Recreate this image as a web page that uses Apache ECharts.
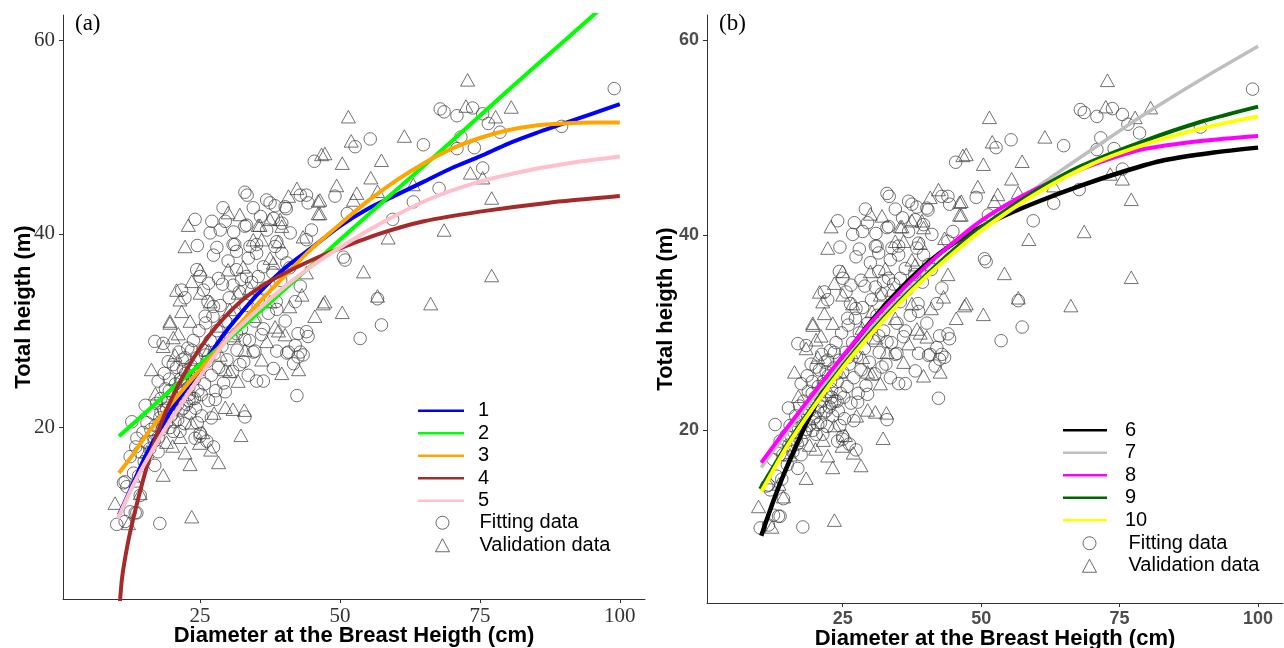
<!DOCTYPE html>
<html><head><meta charset="utf-8">
<script src="https://cdn.jsdelivr.net/npm/echarts@6/dist/echarts.min.js"></script>
<style>html,body{margin:0;padding:0;background:#fff}#c{width:1284px;height:648px}</style>
</head><body><div id="c"></div>
<script>
// ---------- data ----------
const xTicks = [25, 50, 75, 100];
const yTicks = [20, 40, 60];

const fitting = [
[45.4,47.5],[33.0,44.3],[33.4,44.0],[36.9,43.5],[38.4,42.9],[40.4,42.6],[44.0,44.0],[44.3,43.2],[34.5,42.7],[29.1,42.7],
[24.1,41.5],[27.1,41.3],[28.6,40.4],[26.8,40.1],[33.0,40.8],[36.9,40.4],[41.1,40.1],[44.9,40.4],[27.4,37.8],[30.9,38.9],
[31.5,38.2],[33.9,38.7],[35.1,38.0],[38.7,39.2],[39.6,38.0],[36.3,36.6],[40.5,37.0],[24.4,36.3],[25.0,35.6],[26.5,34.9],
[28.3,35.4],[31.5,36.3],[33.3,35.6],[21.7,34.2],[25.6,34.2],[22.3,33.4],[42.9,34.6],[38.7,32.2],[27.4,32.5],[25.9,31.5],
[99.0,55.0],[67.9,52.9],[68.6,52.6],[70.9,52.2],[73.7,53.0],[75.5,52.4],[76.5,51.4],[78.6,50.5],[71.6,50.0],[70.9,48.8],
[74.0,48.9],[64.9,49.2],[89.6,51.1],[55.4,49.8],[52.7,49.0],[75.5,46.8],[67.7,44.7],[49.1,43.9],[63.1,43.3],[59.4,41.5],
[50.6,37.6],[50.9,37.3],[56.7,33.3],[57.4,30.6],[51.3,42.1],[53.6,29.2],
[44.0,29.9],[42.0,28.5],[42.5,27.3],[43.4,27.5],[41.7,26.6],[42.3,23.3],[36.3,30.2],[34.8,27.9],[38.7,27.9],[40.5,27.7],
[38.1,26.1],[35.1,24.8],[36.3,24.8],[33.6,25.4],[33.0,29.1],[31.5,29.7],[29.5,23.7],[27.7,22.9],[33.0,21.1],[25.0,19.4],
[24.1,18.9],[27.4,18.0],[17.8,10.1],[16.9,28.9],[18.4,28.7],[10.1,10.0],[11.6,10.3],[13.7,11.2],[11.3,14.3],[11.9,13.9],
[13.7,18.9],[12.8,20.6],[15.2,22.3],[17.5,24.8],[20.2,26.5],[22.3,27.2],[23.5,28.0],
[37.5,43.2],[40.2,42.8],[42.9,44.0],[29.5,41.3],[33.3,40.9],[38.1,41.6],[39.6,41.1],[44.0,39.4],[31.2,38.9],[35.1,38.9],
[38.4,38.7],[33.6,37.5],[30.9,34.7],[32.4,35.3],[35.4,35.6],[42.5,29.7],[44.3,29.4],[34.5,27.8],[40.8,27.8],[42.9,27.8],
[32.1,26.5],[11.6,14.4],[13.1,15.3],[12.5,11.3],[13.4,11.2],[14.3,13.0],[16.9,16.1],[17.5,17.5],[16.6,19.1],[18.4,20.1],
[21.4,19.6],[25.0,19.1],[26.2,18.6],
[12.5,17.0],[13.5,18.0],[14.0,15.0],[14.2,17.5],[14.8,19.5],[15.0,16.5],[15.3,18.5],[15.5,20.5],[16.0,17.8],[16.2,19.8],
[16.5,21.5],[16.8,18.6],[17.0,20.2],[17.2,22.5],[17.5,19.0],[17.8,21.0],[18.0,23.0],[18.2,19.8],[18.5,21.8],[18.8,24.0],
[19.0,20.5],[19.2,22.6],[19.5,25.0],[19.8,21.2],[20.0,23.4],[20.2,19.6],[20.5,22.0],[20.6,24.5],[20.8,26.2],[21.0,20.8],
[21.2,23.0],[21.5,25.0],[21.6,21.8],[21.8,27.0],[22.0,23.6],[22.2,20.4],[22.4,25.6],[22.6,22.4],[22.8,28.2],[23.0,24.2],
[23.2,21.5],[23.4,26.4],[23.6,23.0],[23.8,29.0],[24.0,25.0],[24.2,22.0],[24.4,27.2],[24.6,23.8],[24.8,30.0],[25.0,26.0],
[25.3,21.2],[25.5,28.0],[25.8,24.5],[26.0,30.8],[26.2,26.8],[26.5,22.8],[26.8,29.0],[27.0,25.4],[27.3,31.5],[27.5,27.6],
[27.8,23.8],[28.0,30.0],[28.3,26.2],[28.6,32.6],[28.9,28.4],[29.2,24.6],[29.5,31.0],[29.8,27.0],[30.2,33.4],[30.5,29.2],
[30.8,25.8],[31.2,31.8],[31.6,28.0],[32.0,34.0],[32.4,30.2],[32.8,26.8],[33.2,32.6],[33.8,29.0],[34.2,35.0],[34.8,31.0],
[35.4,33.2],[36.0,29.6],[36.6,34.4],[37.2,31.8],[38.0,36.0],[38.6,33.0],[39.4,35.2],[40.2,31.0],[41.0,36.5],[42.0,33.0],
[19.5,23.8],[20.5,20.6],[21.0,24.0],[22.0,26.0],[23.0,22.8],[23.8,25.8],[24.5,20.5],[25.2,23.4],[26.0,27.5],[27.0,21.0],
[21.2,27.8],[19.3,26.8],[18.6,25.6],[26.4,33.0],[29.0,34.8],[30.0,37.2],[28.0,38.6],[31.0,40.2],[35.8,41.8],[24.5,38.8],
[18.0,21.6],[19.0,22.0],[20.0,21.4],[21.0,22.4],[22.0,22.0],[23.0,23.4],[24.0,23.0],[21.8,24.8],[19.6,20.0],[22.8,25.0]
];

const validation = [
[46.7,48.2],[47.3,48.3],[42.3,44.7],[40.8,43.9],[46.4,43.5],[46.4,42.1],[30.0,42.2],[32.1,42.0],[22.9,40.9],[22.3,38.7],
[35.4,40.9],[37.5,41.5],[39.3,41.5],[39.6,40.8],[36.0,39.4],[39.0,39.2],[30.0,36.3],[32.7,36.6],[38.1,37.0],[25.0,36.3],
[23.5,35.1],[20.8,34.2],[21.4,33.2],[25.0,33.9],[26.8,33.0],[31.8,33.9],[33.9,34.4],[30.3,32.2],[43.2,33.7],[47.3,33.0],
[19.6,31.0],[21.7,32.0],[23.2,31.0],
[72.8,55.9],[72.5,53.2],[77.8,52.1],[80.6,53.1],[51.5,52.1],[61.5,50.1],[52.0,49.6],[50.4,47.3],[57.4,47.6],[55.5,45.8],
[73.3,46.3],[75.5,45.8],[49.4,45.0],[77.1,43.7],[53.0,44.2],[52.4,43.5],[56.7,44.4],[63.1,45.1],[68.6,40.4],[58.6,39.6],
[54.2,36.1],[77.1,35.7],[47.0,32.8],[50.4,31.9],[66.2,32.8],[56.7,33.6],
[16.3,26.0],[18.4,28.4],[20.2,29.3],[19.6,30.8],[9.8,12.2],[14.3,13.2],[12.2,10.1],[18.4,15.1],[20.1,18.1],[22.3,17.4],
[23.2,16.2],[24.9,18.4],[26.9,17.7],[28.3,16.4],[23.5,10.8],[32.3,19.2],[29.5,22.1],[30.9,21.9],[32.9,21.8],[31.8,24.8],
[39.6,25.6],[42.6,26.0],[38.4,30.4],[40.2,29.6],[36.9,28.9],[28.6,27.5],[30.3,25.8],[21.1,29.7],
[46.1,43.4],[46.1,42.1],[35.7,40.9],[34.5,39.4],[43.4,39.7],[37.5,37.5],
[13.5,14.5],[15.5,17.5],[17.0,23.5],[19.0,18.5],[20.5,27.5],[21.5,19.0],[22.5,24.0],[23.5,20.5],[24.5,26.0],[25.5,19.5],
[26.5,28.0],[27.5,21.5],[28.5,30.5],[29.5,26.0],[31.0,29.5],[33.0,28.0],[34.5,31.5],[36.0,27.0],[37.5,33.0],[39.0,30.0],
[41.0,32.5],[44.0,36.0],[45.5,31.5]
];

const curve1 = [[10.5,11.0],[13,14.2],[15,16.8],[17.5,19.5],[20,21.9],[22.5,24.0],[25,26.0],[27.5,28.2],[30,30.2],[35,33.6],[40,36.4],[45,38.6],[50,40.8],[55,42.6],[60,44.0],[65,45.4],[70,46.8],[75,48.0],[80,49.3],[85,50.4],[90,51.4],[95,52.4],[100,53.4]];
const curve2 = [[10.5,19.1],[20,24.0],[30,29.1],[40,34.2],[50,39.4],[60,44.5],[70,49.6],[80,54.8],[90,59.9],[100,65.0]];
const curve3 = [[10.5,15.3],[13,17.2],[15,18.9],[17.5,20.8],[20,22.6],[25,26.0],[30,29.3],[35,32.6],[40,35.6],[45,38.5],[50,41.0],[55,43.4],[60,45.5],[65,47.3],[70,48.8],[75,49.9],[80,50.7],[85,51.2],[90,51.4],[95,51.5],[100,51.5]];
const curve4 = [[10.55,1.0],[11,4.2],[11.5,6.2],[12.5,9.2],[14,12.8],[16,17.0],[18,20.4],[20,23.1],[22.5,25.9],[25,28.2],[28,30.5],[32,32.9],[36,34.6],[40,35.9],[45,37.3],[50,38.5],[57,40.0],[65,41.3],[75,42.3],[87,43.2],[100,43.9]];
const curve5 = [[10.3,10.6],[13,14.0],[16,17.2],[20,21.0],[25,25.3],[30,29.2],[35,32.0],[40,34.5],[45,36.7],[50,38.6],[57,41.0],[66,43.6],[75,45.4],[84,46.6],[92,47.4],[100,48.0]];
const curve6 = [[10.3,9.2],[12,12.0],[14,15.0],[16.5,18.3],[19,21.4],[22,24.6],[25,27.3],[30,31.1],[35,34.3],[41,37.5],[47,39.9],[53,41.7],[60,43.4],[68,45.1],[76,46.6],[83,47.7],[92,48.5],[100,49.0]];
const curve7 = [[10.3,16.2],[15,19.9],[20,23.6],[25,27.0],[30,30.3],[35,33.3],[40,36.0],[45,38.5],[50,40.8],[60,44.9],[70,48.8],[80,52.6],[90,56.1],[100,59.4]];
const curve8 = [[10.3,16.7],[15,20.3],[20,24.0],[25,27.6],[30,31.0],[35,34.0],[40,36.8],[44,38.8],[50,41.5],[56,43.6],[62,45.3],[70,47.2],[79,48.8],[90,49.7],[100,50.2]];
const curve9 = [[10.1,14.0],[15,18.6],[20,22.8],[25,26.6],[30,30.0],[35,33.1],[40,35.9],[45,38.5],[50,40.8],[60,44.6],[68,47.1],[79,49.6],[90,51.7],[100,53.2]];
const curve10 = [[10.3,13.7],[15,18.4],[20,22.6],[25,26.4],[30,29.8],[35,32.9],[40,35.7],[45,38.2],[50,40.5],[60,44.3],[70,47.3],[80,49.4],[90,51.0],[100,52.2]];

const namesA = ['1','2','3','4','5'];
const namesB = ['6','7','8','9','10'];
const colorsA = ['#0000ff','#00ff00','#ffa500','#a52a2a','#ffc0cb'];
const colorsB = ['#000000','#bebebe','#ff00ff','#006400','#ffff00'];
const widthsB = [4.5,3.5,4,4,4];
const curvesA = [curve1,curve2,curve3,curve4,curve5];
const curvesB = [curve6,curve7,curve8,curve9,curve10];

// ---------- chart ----------
const chart = echarts.init(document.getElementById('c'), null, {renderer:'canvas'});
const AX = '#333';
function xAxis(gi, serif) {
  return {
    type:'value', gridIndex:gi, min:0.5, max:104.5,
    axisLine:{show:true, onZero:false, lineStyle:{color:AX, width:1}},
    axisTick:{show:true, length:4, customValues:xTicks, lineStyle:{color:AX}},
    axisLabel:{customValues:xTicks, margin:7, color:serif?'#333':'#4d4d4d',
      fontFamily:serif?'Liberation Serif':'Liberation Sans', fontSize:serif?21:18, fontWeight:serif?'normal':'bold'},
    splitLine:{show:false},
    name:'Diameter at the Breast Heigth (cm)', nameLocation:'middle', nameGap:serif?26:25, nameMoveOverlap:false,
    nameTextStyle:{fontFamily:'Liberation Sans', fontWeight:'bold', fontSize:22, color:'#000'}
  };
}
function yAxis(gi, serif) {
  return {
    type:'value', gridIndex:gi, min:2.3, max:62.6,
    axisLine:{show:true, onZero:false, lineStyle:{color:AX, width:1}},
    axisTick:{show:true, length:4, customValues:yTicks, lineStyle:{color:AX}},
    axisLabel:{customValues:yTicks, margin:8, color:serif?'#333':'#4d4d4d',
      fontFamily:serif?'Liberation Serif':'Liberation Sans', fontSize:serif?21:18, fontWeight:serif?'normal':'bold'},
    splitLine:{show:false},
    name:'Total heigth (m)', nameLocation:'middle', nameGap:serif?28:30, nameRotate:90, nameMoveOverlap:false,
    nameTextStyle:{fontFamily:'Liberation Sans', fontWeight:'bold', fontSize:22, color:'#000'}
  };
}
const ptStyle = {color:'rgba(0,0,0,0)', borderColor:'#3a3a3a', borderWidth:0.9};
function scatterPair(gi) {
  return [
    {type:'scatter', name:'Fitting data', xAxisIndex:gi, yAxisIndex:gi, data:fitting,
     symbol:'circle', symbolSize:12.5, itemStyle:ptStyle, silent:true, z:2},
    {type:'scatter', name:'Validation data', xAxisIndex:gi, yAxisIndex:gi, data:validation,
     symbol:'triangle', symbolSize:[14,12.5], itemStyle:ptStyle, silent:true, z:2}
  ];
}
function lines(gi, names, colors, curves, widths) {
  return names.map((n,i)=>({
    type:'line', name:n, xAxisIndex:gi, yAxisIndex:gi, data:curves[i],
    showSymbol:false, symbol:'none', smooth:0.25, clip:true, silent:true, z:3,
    itemStyle:{color:colors[i]},
    lineStyle:{color:colors[i], width:widths?widths[i]:4}
  }));
}
const legText = {fontSize:20, fontFamily:'Liberation Sans', color:'#000', lineHeight:22.5};
function lineLegend(names, left, top, w, pad) {
  return {data:names, orient:'vertical', left:left, top:top, itemWidth:w, itemHeight:2.5, icon:'rect',
    itemGap:0, padding:0, selectedMode:false, itemStyle:{borderWidth:0},
    textStyle:Object.assign({padding:[0,0,0,pad]}, legText)};
}
function ptLegend(left, top, pad) {
  const st = {color:'rgba(0,0,0,0)', borderColor:'#444', borderWidth:1};
  return {data:[{name:'Fitting data', icon:'circle', itemStyle:st},{name:'Validation data', icon:'triangle', itemStyle:st}],
    orient:'vertical', left:left, top:top, itemWidth:14, itemHeight:13, itemGap:0, padding:0, selectedMode:false,
    textStyle:Object.assign({padding:[0,0,0,pad]}, legText)};
}

chart.setOption({
  animation:false,
  backgroundColor:'#fff',
  title:[
    {text:'(a)', left:75, top:12, padding:0, textStyle:{fontFamily:'Liberation Serif', fontSize:23, fontWeight:'normal', color:'#000'}},
    {text:'(b)', left:719, top:12, padding:0, textStyle:{fontFamily:'Liberation Serif', fontSize:23, fontWeight:'normal', color:'#000'}}
  ],
  grid:[
    {left:63, top:15, width:582, height:584, containLabel:false, outerBoundsMode:'none'},
    {left:707, top:15, width:576, height:588, containLabel:false, outerBoundsMode:'none'}
  ],
  xAxis:[xAxis(0,true), xAxis(1,false)],
  yAxis:[yAxis(0,true), yAxis(1,false)],
  legend:[
    lineLegend(namesA, 418, 399.5, 46, 9),
    ptLegend(435, 511.5, 25),
    lineLegend(namesB, 1063, 419, 44, 13),
    ptLegend(1082, 532, 27)
  ],
  series:[].concat(
    scatterPair(0), lines(0, namesA, colorsA, curvesA),
    scatterPair(1), lines(1, namesB, colorsB, curvesB, widthsB)
  )
});
</script></body></html>
